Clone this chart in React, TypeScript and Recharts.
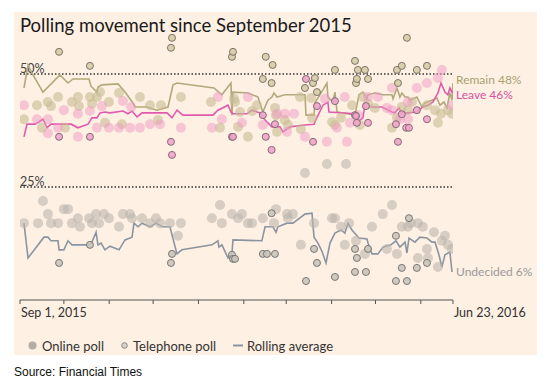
import React from 'react';
import { ComposedChart, XAxis, YAxis, Scatter, Line, ReferenceLine } from 'recharts';

// Day offsets from Sep 1, 2015; values in percent
const monthTicks = [0, 30, 61, 91, 122, 153, 182, 213, 243, 274, 296];
const tickLabels: Record<number, string> = { 0: 'Sep 1, 2015', 296: 'Jun 23, 2016' };
const gridLevels = [50, 25];

const remainOnline: [number, number][] = [
  [2.7, 40.0], [11.6, 43.1], [15, 38.1], [19, 43.8], [21.2, 42.9], [26, 44.9], [30.8, 38.1], [35.5, 43.8],
  [39.6, 44.9], [40.3, 42.9], [47.8, 44.9], [49.2, 43.4], [52.6, 44.9], [54.7, 46.0], [58.1, 39.2], [60.8, 43.8],
  [67.7, 45.8], [69.7, 38.9], [82, 44.9], [88.9, 43.1], [94.3, 39.8], [96.4, 43.1], [110, 44.9], [130.5, 43.8],
  [136.7, 38.1], [146.3, 44.5], [147, 43.8], [149, 38.3], [150.4, 41.6], [155.8, 36.1], [158.6, 41.8], [162, 43.1],
  [174.3, 42.5], [175, 40.9], [175.7, 37.2], [181, 39.8], [183.2, 38.7], [191.4, 44.9], [192, 37.8], [199, 44.7],
  [199.6, 40.3], [213.3, 39.4], [215.3, 38.7], [219.4, 40.3], [227, 43.1], [232.4, 38.7], [234.4, 44.9], [237.9, 43.4],
  [242.6, 42.5], [254.3, 38.1], [257.7, 40.3], [261, 42.7], [265.2, 42.0], [268, 43.8], [278.2, 43.1], [283.7, 42.0],
  [285.7, 39.2], [287.8, 41.2], [292.5, 42.0], [295.3, 41.2],
];

const leaveOnline: [number, number][] = [
  [2.7, 43.1], [11.6, 40.0], [19.1, 40.0], [19.1, 36.9], [26, 38.1], [30, 42.0], [39.6, 41.2], [39.6, 36.1],
  [47.8, 41.8], [52.6, 38.1], [56, 42.9], [60.8, 38.1], [67.7, 38.1], [70.4, 44.0], [75.2, 38.1], [76, 42.7],
  [82, 38.1], [88.9, 38.9], [95.7, 38.9], [110, 38.1], [131.2, 38.1], [135.3, 44.9], [138, 40.0], [151.7, 39.2],
  [155.8, 44.9], [166, 38.7], [175.7, 41.2], [181, 41.2], [182.5, 37.2], [187.3, 41.2], [194.8, 36.1], [208.5, 44.5],
  [209.8, 35.0], [216.7, 38.1], [222, 44.9], [223.5, 35.0], [225.6, 39.2], [231, 40.9], [237.9, 44.9], [244.7, 44.9],
  [250.8, 42.5], [254.3, 46.9], [254.3, 42.0], [259.7, 40.0], [265.2, 43.8], [265.2, 40.0], [271.3, 46.9], [278.2, 48.0],
  [285.7, 49.1], [288.4, 50.9], [295.3, 43.1],
];

const undecidedOnline: [number, number][] = [
  [2.7, 17.0], [12.3, 17.0], [15.7, 21.9], [19.1, 19.0], [21.2, 17.0], [26, 17.0], [30, 20.1], [32.8, 20.1],
  [35.5, 17.0], [39.6, 18.1], [41, 16.2], [47.2, 18.1], [49.2, 17.0], [52, 19.0], [54, 17.0], [57.4, 19.0],
  [60.8, 18.1], [67.7, 16.2], [70.4, 19.0], [75.2, 19.0], [76.6, 18.1], [83.4, 18.1], [88.9, 17.0], [93, 18.1],
  [95.7, 17.0], [102.5, 17.0], [108, 14.2], [110, 17.0], [131.2, 18.1], [136.7, 21.0], [138, 17.0], [144.9, 19.0],
  [149, 18.1], [151.7, 19.0], [155.8, 17.0], [158.6, 17.0], [166, 18.1], [173.6, 17.0], [175, 20.1], [182.5, 19.0],
  [183.2, 18.1], [186.6, 19.0], [192, 12.2], [194.8, 28.1], [201, 17.0], [209.8, 30.1], [213.3, 18.1], [215.3, 18.1],
  [219.4, 16.2], [222, 12.2], [222.9, 30.1], [224.9, 17.0], [229.7, 13.1], [235.8, 10.2], [240.6, 16.2], [248, 19.0],
  [250.8, 11.3], [254.3, 21.0], [257.7, 10.2], [261, 16.2], [265.2, 16.2], [267.2, 17.0], [272, 17.0], [272, 9.3],
  [275.4, 16.2], [278.2, 11.3], [278.9, 9.3], [283, 15.0], [285.7, 7.3], [288.4, 13.1], [290.5, 14.2], [292.5, 12.2],
  [295.3, 11.3],
];

const remainPhone: [number, number][] = [
  [26.7, 54.9], [47.8, 51.8], [103.2, 55.8], [103.9, 58.0], [144.9, 53.8], [145.6, 54.9], [166, 48.9], [168, 53.8],
  [172, 48.0], [172.7, 52.0], [194.8, 46.9], [200.3, 48.0], [201.6, 49.1], [203, 46.0], [215.3, 50.9], [229, 52.9],
  [231, 50.9], [235.8, 50.9], [229.7, 48.0], [230.3, 48.9], [237.9, 48.9], [257.7, 50.9], [261, 51.8], [258.4, 48.0],
  [264.5, 58.0], [271.3, 50.9], [278.2, 51.8],
];

const leavePhone: [number, number][] = [
  [26.7, 36.1], [47.8, 36.1], [103.2, 35.0], [103.9, 32.1], [144.9, 36.1], [145.6, 36.1], [166, 40.9], [168, 36.1],
  [172, 33.2], [174.3, 38.9], [195.5, 48.9], [200.3, 35.0], [203, 42.9], [215.3, 44.0], [229, 40.9], [229.7, 40.7],
  [230.3, 39.2], [236.5, 42.9], [237.9, 39.2], [257, 38.9], [258.4, 35.0], [261, 41.1], [264, 38.1], [265.9, 38.1],
  [271.3, 42.0], [278.2, 40.0],
];

const undecidedPhone: [number, number][] = [
  [26.7, 8.2], [47.8, 12.2], [103.2, 8.2], [103.9, 10.2], [144.9, 10.0], [145.6, 9.1], [147, 9.1], [166, 10.2],
  [168.8, 10.2], [172, 19.2], [174.3, 10.2], [195.5, 4.2], [201, 11.3], [203, 8.2], [215.3, 5.1], [229, 11.3],
  [230.3, 9.3], [229, 6.2], [236.5, 6.2], [237.9, 11.3], [257, 14.2], [257, 4.2], [261, 7.1], [264.5, 4.2],
  [265.9, 18.1], [271.3, 7.1], [278.2, 8.2],
];

const remainAvg: [number, number][] = [
  [2.7, 46.9], [5.5, 52.0], [8.2, 50.2], [15.7, 46.0], [27.3, 49.8], [32.8, 48.0], [36.2, 48.9], [47.2, 48.9],
  [48.5, 47.3], [52.6, 46.0], [53.3, 47.1], [56, 47.6], [67, 47.8], [71.8, 46.0], [77.2, 43.6], [78.6, 42.7],
  [86.8, 42.7], [93.6, 42.0], [101.2, 42.7], [104.6, 47.6], [107.3, 48.0], [132.6, 46.9], [138, 45.4], [144.2, 48.0],
  [144.9, 40.9], [145.6, 46.0], [155.8, 45.8], [162.7, 44.9], [166, 41.6], [169.5, 44.2], [172.2, 44.9], [173.6, 45.8],
  [175.7, 44.9], [181.1, 45.4], [194.8, 45.4], [195.5, 40.9], [201, 40.9], [201.6, 43.6], [207.1, 46.5], [209.8, 48.0],
  [210.5, 44.9], [213.9, 43.8], [215.3, 46.0], [216.7, 41.6], [229, 40.9], [231.7, 45.4], [234.4, 46.0], [237.2, 44.5],
  [237.9, 45.4], [242.6, 45.8], [248.1, 45.4], [254.3, 45.4], [255, 44.5], [257.7, 46.9], [259.7, 44.9], [261.1, 45.8],
  [263.2, 44.9], [265.2, 44.9], [266.6, 44.2], [271.3, 44.9], [274.8, 42.7], [276.8, 43.6], [281.6, 44.2], [285, 44.7],
  [287.1, 43.1], [289.8, 43.8], [291.9, 42.5], [293.9, 45.8], [295.3, 44.2], [296, 48.0],
];

const leaveAvg: [number, number][] = [
  [2.7, 36.1], [4.8, 38.9], [10.3, 38.9], [15.7, 40.0], [18.5, 38.1], [21.2, 38.9], [34.9, 38.9], [39.6, 38.1],
  [46.5, 38.9], [49.2, 40.3], [52.6, 40.3], [54.7, 41.4], [58.1, 41.6], [61.5, 41.4], [70.4, 41.8], [73.8, 41.2],
  [76.6, 41.8], [80, 40.5], [83.4, 41.4], [100.5, 41.4], [103.9, 40.3], [107.3, 42.0], [111.4, 40.9], [131.9, 40.9],
  [135.3, 42.0], [142.2, 43.1], [144.2, 41.6], [145.6, 41.2], [155.2, 41.2], [158.6, 42.0], [164, 41.4], [167.5, 39.8],
  [172.2, 38.3], [177.7, 38.3], [179.8, 37.2], [184.5, 38.3], [194.8, 38.7], [201, 38.9], [201.6, 39.4], [207.1, 43.1],
  [210.5, 43.8], [211.2, 41.6], [229, 41.2], [231, 39.4], [234.4, 40.3], [235.8, 43.1], [237.9, 42.7], [247.4, 42.7],
  [254.3, 41.6], [256.3, 41.4], [259, 42.5], [261.1, 41.4], [265.2, 41.4], [271.3, 41.6], [275.4, 42.7], [278.9, 43.1],
  [282.3, 43.8], [285.7, 45.8], [287.8, 48.0], [290.5, 46.0], [292.5, 45.4], [293.9, 46.9], [295.3, 46.0], [296, 46.0],
];

const undecidedAvg: [number, number][] = [
  [2.7, 17.0], [5.5, 9.3], [16.4, 13.9], [19.1, 13.9], [21.2, 13.1], [26, 13.1], [26.7, 11.1], [30, 11.1],
  [32.8, 13.1], [35.5, 12.2], [47.2, 12.2], [49.2, 12.8], [52, 15.0], [53.3, 12.2], [55.4, 12.6], [58.1, 11.1],
  [61.5, 11.9], [67.7, 11.1], [71.8, 13.3], [76.6, 13.9], [77.9, 17.0], [80.7, 16.2], [83.4, 17.0], [88.9, 16.2],
  [93, 17.0], [97.1, 16.2], [102.5, 16.2], [107.3, 10.2], [110.7, 11.1], [131.2, 12.2], [135.3, 13.1], [136, 11.7],
  [138, 12.2], [142.2, 9.3], [144.9, 10.4], [145.6, 13.3], [165.4, 13.1], [167.5, 16.2], [172.9, 16.2], [175, 15.0],
  [176.3, 16.2], [182.5, 17.0], [186.6, 17.0], [194.8, 19.0], [199.6, 19.2], [201, 13.9], [203.7, 12.6], [206.4, 10.8],
  [209.2, 8.2], [211.9, 12.6], [215.3, 14.8], [219.4, 15.5], [222.1, 14.8], [224.2, 17.0], [226.9, 15.5], [231.7, 13.7],
  [237.2, 13.5], [237.9, 12.6], [240.6, 10.2], [244.7, 10.2], [248.1, 11.7], [253.6, 12.2], [257, 13.1], [259.7, 11.7],
  [263.2, 12.8], [264.5, 10.4], [265.9, 13.7], [270, 12.8], [273.4, 13.9], [278.2, 13.7], [281.6, 12.8], [283.7, 12.8],
  [286.4, 10.0], [288.4, 7.3], [290.5, 10.0], [293.9, 10.6], [295.3, 6.2],
];

const endLabels = [
  { text: 'Remain 48%', color: '#a9a173', top: 73 },
  { text: 'Leave 46%', color: '#d9519f', top: 88 },
  { text: 'Undecided 6%', color: '#9a9a9a', top: 265 },
];

const toRows = (arr: [number, number][]) => arr.map(([d, v]) => ({ d, v }));

const COLORS = {
  remain: { line: '#b1a97c', online: '#c8bd94', phone: '#d6cca9' },
  leave: { line: '#e05aae', online: '#f098c6', phone: '#eea4ca' },
  undecided: { line: '#8b95a2', online: '#bdb6ad', phone: '#cbc4ba' },
};

const onlineShape = (fill: string, op: number) => (props: any) => (
  <circle cx={props.cx} cy={props.cy} r={5} fill={fill} fillOpacity={op} />
);
const phoneShape = (fill: string, stroke: string) => (props: any) => (
  <circle cx={props.cx} cy={props.cy} r={3.5} fill={fill} stroke={stroke} strokeWidth={1} fillOpacity={0.9} />
);

const Tick = (props: any) => {
  const { x, y, payload } = props;
  const label = tickLabels[payload.value];
  if (!label) return <g />;
  return (
    <text x={x + 1} y={y} dy="0.71em" textAnchor="start" fontSize={12.5} fill="#333" fontFamily="Lato, 'Open Sans', sans-serif">
      {label}
    </text>
  );
};

const refLabel = (text: string) => (props: any) => {
  const vb = props.viewBox || {};
  return (
    <text x={vb.x} y={vb.y - 1.5} fontSize={12.5} fill="#444" fontFamily="Lato, 'Open Sans', sans-serif">
      {text}
    </text>
  );
};

export default function App() {
  return (
    <div style={{ position: 'absolute', left: 0, top: 0, width: 548, height: 378, background: '#fff', fontFamily: "Lato, 'Open Sans', sans-serif" }}>
      <div style={{ position: 'absolute', left: 14, top: 12, width: 523, height: 343, background: '#fef0e2' }} />
      <div style={{ position: 'absolute', left: 20, top: 12, fontSize: 18.5, color: '#1a1a1a', lineHeight: '26px', whiteSpace: 'nowrap' }}>
        Polling movement since September 2015
      </div>
      <div style={{ position: 'absolute', left: 0, top: 0 }}>
        <ComposedChart width={548} height={378} margin={{ top: 28.8, right: 95, bottom: 48, left: 20 }}>
          <XAxis
            type="number"
            dataKey="d"
            domain={[0, 296]}
            ticks={monthTicks}
            interval={0}
            height={30}
            axisLine={{ stroke: '#555', strokeWidth: 1 }}
            tickLine={{ stroke: '#555', strokeWidth: 1 }}
            tickSize={4}
            tickMargin={4}
            tick={<Tick />}
            allowDataOverflow
          />
          <YAxis type="number" dataKey="v" domain={[0, 60]} hide allowDataOverflow />
          {gridLevels.map((g) => (
            <ReferenceLine key={g} y={g} stroke="#333" strokeWidth={1.5} strokeDasharray="1.5 2" label={refLabel(`${g}%`)} />
          ))}
          <Scatter data={toRows(undecidedOnline)} shape={onlineShape(COLORS.undecided.online, 0.6)} isAnimationActive={false} />
          <Scatter data={toRows(remainOnline)} shape={onlineShape(COLORS.remain.online, 0.6)} isAnimationActive={false} />
          <Scatter data={toRows(leaveOnline)} shape={onlineShape(COLORS.leave.online, 0.5)} isAnimationActive={false} />
          <Line data={toRows(undecidedAvg)} dataKey="v" type="linear" stroke={COLORS.undecided.line} strokeWidth={1.6} dot={false} isAnimationActive={false} />
          <Line data={toRows(remainAvg)} dataKey="v" type="linear" stroke={COLORS.remain.line} strokeWidth={1.6} dot={false} isAnimationActive={false} />
          <Line data={toRows(leaveAvg)} dataKey="v" type="linear" stroke={COLORS.leave.line} strokeWidth={1.6} dot={false} isAnimationActive={false} />
          <Scatter data={toRows(undecidedPhone)} shape={phoneShape(COLORS.undecided.phone, '#777')} isAnimationActive={false} />
          <Scatter data={toRows(remainPhone)} shape={phoneShape(COLORS.remain.phone, '#7a7466')} isAnimationActive={false} />
          <Scatter data={toRows(leavePhone)} shape={phoneShape(COLORS.leave.phone, '#8a6878')} isAnimationActive={false} />
        </ComposedChart>
      </div>
      {endLabels.map((l) => (
        <div key={l.text} style={{ position: 'absolute', left: 456, top: l.top, fontSize: 12, color: l.color, lineHeight: '14px', whiteSpace: 'nowrap' }}>
          {l.text}
        </div>
      ))}
      <svg style={{ position: 'absolute', left: 0, top: 336 }} width={260} height={20}>
        <circle cx={32.5} cy={9.5} r={4} fill="#b3ada6" />
        <circle cx={124.5} cy={9.5} r={2.8} fill="#d9d2c8" stroke="#888" strokeWidth={1} />
        <line x1={233} x2={243} y1={9.5} y2={9.5} stroke="#8b95a2" strokeWidth={2} />
      </svg>
      <div style={{ position: 'absolute', left: 42, top: 337, fontSize: 13, color: '#333', lineHeight: '18px', whiteSpace: 'nowrap' }}>Online poll</div>
      <div style={{ position: 'absolute', left: 133, top: 337, fontSize: 13, color: '#333', lineHeight: '18px', whiteSpace: 'nowrap' }}>Telephone poll</div>
      <div style={{ position: 'absolute', left: 247, top: 337, fontSize: 13, color: '#333', lineHeight: '18px', whiteSpace: 'nowrap' }}>Rolling average</div>
      <div style={{ position: 'absolute', left: 14, top: 364, fontSize: 12, color: '#111', lineHeight: '16px', fontFamily: "'Liberation Sans', Arial, sans-serif", whiteSpace: 'nowrap' }}>
        Source: Financial Times
      </div>
    </div>
  );
}
